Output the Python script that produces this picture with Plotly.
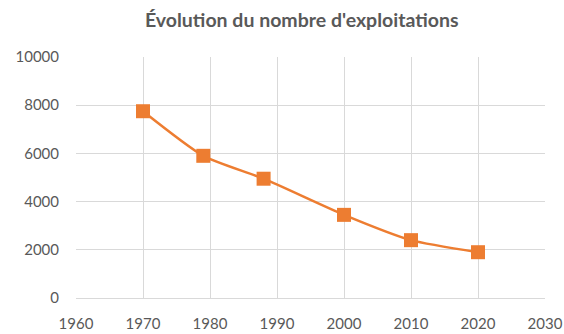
import plotly.graph_objects as go

# Number of farms recorded at each agricultural census
years = [1970, 1979, 1988, 2000, 2010, 2020]
exploitations = [7750, 5900, 4950, 3450, 2400, 1900]

title_text = "Évolution du nombre d'exploitations"
x_ticks = [1960, 1970, 1980, 1990, 2000, 2010, 2020, 2030]
y_ticks = [0, 2000, 4000, 6000, 8000, 10000]

orange = "#ED7D31"
grey_text = "#595959"
grid = "#D9D9D9"

fig = go.Figure(
    go.Scatter(
        x=years,
        y=exploitations,
        mode="lines+markers",
        line=dict(color=orange, width=2.5, shape="spline", smoothing=0.6),
        marker=dict(symbol="square", size=14, color=orange),
        showlegend=False,
    )
)

fig.update_layout(
    width=564,
    height=334,
    margin=dict(l=76, r=19, t=57, b=36),
    paper_bgcolor="white",
    plot_bgcolor="white",
    title=dict(
        text=f"<b>{title_text}</b>",
        x=0.535,
        xanchor="center",
        y=0.94,
        yanchor="middle",
        font=dict(family="Lato, Open Sans, sans-serif", size=19.5, color=grey_text),
    ),
    font=dict(family="Lato, Open Sans, sans-serif", size=15, color=grey_text),
)

fig.update_xaxes(
    range=[1960, 2030],
    tickvals=x_ticks,
    ticktext=[str(v) for v in x_ticks],
    showgrid=True,
    gridcolor=grid,
    gridwidth=1.3,
    zeroline=False,
    showline=True,
    linecolor=grid,
    linewidth=1.3,
    mirror=False,
    ticks="",
    ticklabelstandoff=12,
    automargin=False,
)

fig.update_yaxes(
    range=[0, 10000],
    tickvals=y_ticks,
    ticktext=[str(v) for v in y_ticks],
    showgrid=True,
    gridcolor=grid,
    gridwidth=1.3,
    zeroline=False,
    showline=False,
    ticks="",
    ticklabelstandoff=16,
    automargin=False,
)

fig.write_html("out.html")
